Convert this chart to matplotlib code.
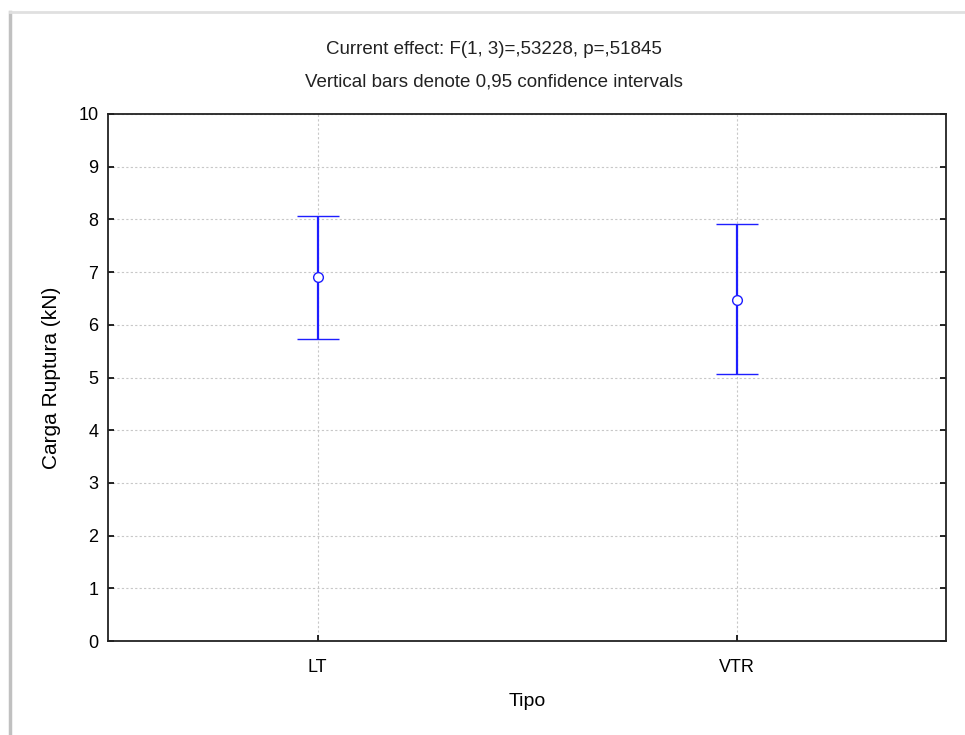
import numpy as np
import matplotlib.pyplot as plt
from matplotlib.lines import Line2D

plt.rcParams['font.family'] = ['Liberation Sans', 'DejaVu Sans']

# data
tipo = ['LT', 'VTR']
media = [6.90, 6.48]
ic_inf = [5.73, 5.06]
ic_sup = [8.07, 7.92]

x = np.arange(len(tipo))
err = [np.array(media) - np.array(ic_inf), np.array(ic_sup) - np.array(media)]

fig = plt.figure(figsize=(9.65, 7.35), dpi=100)
ax = fig.add_axes([108/965, 1-641/735, (946-108)/965, (641-114)/735])

ax.errorbar(x, media, yerr=err, fmt='o', color='#1e1eff', ecolor='#1e1eff',
            elinewidth=1.6, capsize=15, capthick=2.2, markersize=7,
            markerfacecolor='white', markeredgecolor='#1e1eff', markeredgewidth=1.0, zorder=3)

ax.set_xlim(-0.5, 1.5)
ax.set_ylim(0, 10)
ax.set_xticks(x)
ax.set_xticklabels(tipo)
ax.set_yticks(range(0, 11))
ax.tick_params(axis='both', direction='in', labelsize=13, length=4, width=1.2, pad=7)
ax.tick_params(axis='y', right=True)
ax.tick_params(axis='x', pad=13)
ax.grid(True, color='#c8c8c8', linestyle=(0, (2, 2)), linewidth=0.8)
for s in ax.spines.values():
    s.set_linewidth(1.3)
    s.set_color('#222222')

ax.set_xlabel('Tipo', fontsize=14, labelpad=12)
ax.set_ylabel('Carga Ruptura (kN)', fontsize=15, labelpad=12, family=['Liberation Sans Narrow', 'Liberation Sans'])

fig.text(494/965, 1-50/735, 'Current effect: F(1, 3)=,53228, p=,51845',
         ha='center', va='center', fontsize=13.5, color='#222222')
fig.text(494/965, 1-82/735, 'Vertical bars denote 0,95 confidence intervals',
         ha='center', va='center', fontsize=13.5, color='#222222')

# window frame shadow
fig.add_artist(Line2D([10/965, 10/965], [0, 1-12/735], color='#c0c0c0', linewidth=2.5))
fig.add_artist(Line2D([10/965, 1], [1-12/735, 1-12/735], color='#e0e0e0', linewidth=2))

fig.savefig('out.png', dpi=100)
